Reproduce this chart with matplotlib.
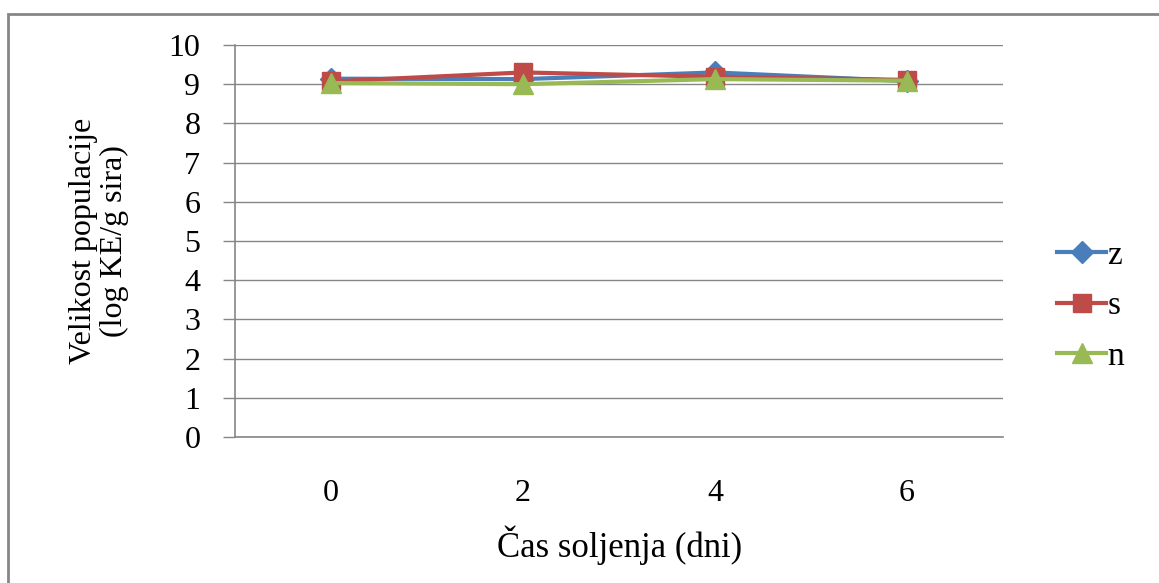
import matplotlib
matplotlib.use("Agg")
from matplotlib import pyplot as plt
from matplotlib.patches import Rectangle

days = ["0", "2", "4", "6"]
z_vals = [9.14, 9.13, 9.30, 9.08]
s_vals = [9.07, 9.30, 9.19, 9.11]
n_vals = [9.03, 9.00, 9.13, 9.09]

plt.rcParams['font.family'] = ['Liberation Serif', 'DejaVu Serif']

W, H = 1159, 583
fig = plt.figure(figsize=(W / 100, H / 100), dpi=100)
ax = fig.add_axes([235 / W, 1 - 437 / H, (1003 - 235) / W, (437 - 45) / H])

grey = "#868686"
x = list(range(len(days)))
ax.plot(x, z_vals, color="#4A7EBB", lw=3, marker="D", ms=11, label="z")
ax.plot(x, s_vals, color="#BE4B48", lw=3, marker="s", ms=13, label="s")
ax.plot(x, n_vals, color="#98B954", lw=3, marker="^", ms=14, label="n")

ax.set_xlim(-0.5, len(days) - 0.5)
ax.set_ylim(0, 10)
ax.set_yticks(range(0, 11))
ax.set_xticks(x)
ax.set_xticklabels(days)
ax.yaxis.grid(True, color=grey, lw=1)
ax.set_axisbelow(True)
for side in ["top", "right"]:
    ax.spines[side].set_visible(False)
for side in ["left", "bottom"]:
    ax.spines[side].set_color(grey)
    ax.spines[side].set_linewidth(1.2)
ax.tick_params(axis="y", length=9, color=grey, width=1, pad=16, labelsize=23)
ax.tick_params(axis="x", length=0, pad=30, labelsize=23)

fig.text(99 / W, 1 - 241 / H, "Velikost populacije\n(log KE/g sira)", rotation=90,
         ha="center", va="center", fontsize=23, linespacing=1.05)
fig.text(620 / W, 1 - 545 / H, "Čas soljenja (dni)", ha="center", va="center", fontsize=25)

ax.legend(loc="center left", bbox_to_anchor=(1044 / W, 1 - 306 / H), bbox_transform=fig.transFigure,
          frameon=False, fontsize=24, handlelength=1.45, handletextpad=0.05, labelspacing=0.6,
          borderaxespad=0)

fig.patches.append(Rectangle((8 / W, -0.1), 1.2, 1 - 14 / H + 0.1, transform=fig.transFigure,
                             fill=False, edgecolor=grey, lw=2))

fig.savefig("out.png", dpi=100)
